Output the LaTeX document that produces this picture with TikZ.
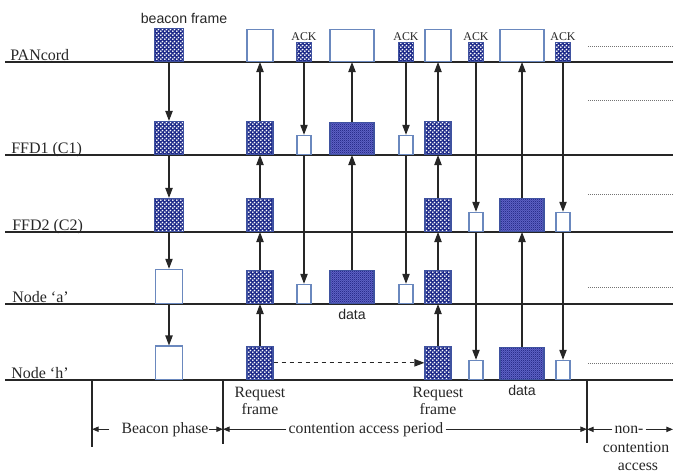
\documentclass[tikz,border=0pt]{standalone}
\usepackage{fontspec}
\setmainfont{Liberation Serif}
\newfontfamily\lblSans{Liberation Sans}
\usetikzlibrary{arrows.meta,patterns,positioning}
\definecolor{hatchBlue}{HTML}{1F2B8A}
\definecolor{edgeBlue}{HTML}{3F52A0}
\definecolor{paleEdge}{HTML}{6A88BE}
\definecolor{denseBlue}{HTML}{6064C8}
\definecolor{denseDark}{HTML}{2A2E8C}
\definecolor{lineGray}{HTML}{262626}
\pgfdeclarepatternformonly{frameDots}{\pgfqpoint{0pt}{0pt}}{\pgfqpoint{3pt}{3pt}}{\pgfqpoint{3pt}{3pt}}{%
  \pgfpathcircle{\pgfqpoint{0.75pt}{0.75pt}}{0.85pt}%
  \pgfpathcircle{\pgfqpoint{2.25pt}{2.25pt}}{0.85pt}%
  \pgfusepath{fill}}
\pgfdeclarepatternformonly{fineChecker}{\pgfqpoint{0pt}{0pt}}{\pgfqpoint{1.6pt}{1.6pt}}{\pgfqpoint{1.6pt}{1.6pt}}{%
  \pgfpathrectangle{\pgfqpoint{0pt}{0pt}}{\pgfqpoint{0.8pt}{0.8pt}}%
  \pgfpathrectangle{\pgfqpoint{0.8pt}{0.8pt}}{\pgfqpoint{0.8pt}{0.8pt}}%
  \pgfusepath{fill}}
\tikzset{
  hatchBox/.style={draw=edgeBlue, line width=0.8pt, preaction={fill=hatchBlue}, pattern=frameDots, pattern color=white, inner sep=0pt, anchor=south},
  plainBox/.style={draw=paleEdge, line width=0.9pt, fill=white, inner sep=0pt, anchor=south},
  dataBox/.style={draw=edgeBlue, line width=0.8pt, preaction={fill=denseBlue}, pattern=fineChecker, pattern color=denseDark, inner sep=0pt, anchor=south},
  bcSize/.style={minimum width=22pt, minimum height=24.75pt},
  rqSize/.style={minimum width=19.5pt, minimum height=25pt},
  akSize/.style={minimum width=11pt, minimum height=14.25pt},
  dtSize/.style={minimum width=33pt, minimum height=24pt},
  rowLine/.style={draw=lineGray, line width=1.1pt},
  rowLbl/.style={anchor=base west, inner sep=0pt, font=\fontsize{12pt}{13pt}\selectfont, text=lineGray},
  sig/.style={draw=lineGray, line width=0.8pt, -{Triangle[length=7.5pt,width=5.5pt]}},
  ackLbl/.style={inner sep=0pt, font=\fontsize{8.9pt}{10pt}\selectfont, text=lineGray},
  sansLbl/.style={inner sep=0pt, font=\lblSans\fontsize{10.6pt}{12pt}\selectfont, text=lineGray},
  subLbl/.style={inner sep=0pt, align=center, font=\fontsize{11.8pt}{12.8pt}\selectfont, text=lineGray},
  phaseLbl/.style={anchor=base, inner xsep=1.5pt, inner ysep=0pt, font=\fontsize{11.8pt}{13pt}\selectfont, text=lineGray},
  span/.style={draw=lineGray, line width=0.75pt, -{Triangle[length=5pt,width=4pt]}},
  tickLine/.style={draw=lineGray, line width=0.9pt},
  restDots/.style={draw=black!55, line width=0.7pt, dash pattern=on 0.6pt off 0.9pt}
}
\begin{document}
\begin{tikzpicture}[x=0.75pt,y=-0.75pt]
\useasboundingbox (0,0) rectangle (673,472);
\foreach \y in {62,155,232,304,380}
  \draw[rowLine] (5,\y) -- (673,\y);
\foreach \y in {46,100,194,287,363}
  \draw[restDots] (588,\y) -- (673,\y);
\node[rowLbl] (lblPan) at (10,60) {PANcord};
\node[rowLbl] (lblFfa) at (11,153) {FFD1 (C1)};
\node[rowLbl] (lblFfb) at (12,230) {FFD2 (C2)};
\node[rowLbl] (lblNda) at (12,302) {Node ‘a’};
\node[rowLbl] (lblNdh) at (11,378) {Node ‘h’};
\node[sansLbl] (bfLbl) at (184,18) {beacon frame};
\node[hatchBox,bcSize] (bcn0) at (169,62) {};
\node[hatchBox,bcSize] (bcn1) at (169,155) {};
\node[hatchBox,bcSize] (bcn2) at (169,232) {};
\node[plainBox,bcSize,minimum width=20pt,minimum height=25.5pt] (bcn3) at (169,304) {};
\node[plainBox,bcSize,minimum width=20pt,minimum height=25pt] (bcn4) at (169,380) {};
\draw[sig] (bcn0.south) -- (bcn1.north);
\draw[sig] (bcn1.south) -- (bcn2.north);
\draw[sig] (bcn2.south) -- (bcn3.north);
\draw[sig] (bcn3.south) -- (bcn4.north);
\node[plainBox,rqSize,minimum height=24pt] (reqA0) at (260,62) {};
\node[hatchBox,rqSize] (reqA1) at (260,155) {};
\node[hatchBox,rqSize] (reqA2) at (260,232) {};
\node[hatchBox,rqSize] (reqA3) at (260,304) {};
\node[hatchBox,rqSize] (reqA4) at (260,380) {};
\draw[sig] (reqA4.north) -- (reqA3.south);
\draw[sig] (reqA3.north) -- (reqA2.south);
\draw[sig] (reqA2.north) -- (reqA1.south);
\draw[sig] (reqA1.north) -- (reqA0.south);
\node[subLbl, below=5pt of reqA4] (reqLblA) {Request\\frame};
\node[hatchBox,akSize] (ackA0) at (304,62) {};
\node[ackLbl, above=0.8pt of ackA0] (ackLblA) {ACK};
\node[plainBox,akSize,minimum width=10.5pt] (ackA1) at (304,155) {};
\node[plainBox,akSize,minimum width=10.5pt] (ackA3) at (304,304) {};
\draw[sig] (ackA0.south) -- (ackA1.north);
\draw[sig] (ackA1.south) -- (ackA3.north);
\node[plainBox,dtSize] (datA0) at (352,62) {};
\node[dataBox,dtSize] (datA1) at (352,155) {};
\node[dataBox,dtSize,minimum height=24.75pt] (datA3) at (352,304) {};
\draw[sig] (datA3.north) -- (datA1.south);
\draw[sig] (datA1.north) -- (datA0.south);
\node[sansLbl, below=4pt of datA3] (datLblA) {data};
\node[hatchBox,akSize] (ackB0) at (406,62) {};
\node[ackLbl, above=0.8pt of ackB0] (ackLblB) {ACK};
\node[plainBox,akSize,minimum width=10.5pt] (ackB1) at (406,155) {};
\node[plainBox,akSize,minimum width=10.5pt] (ackB3) at (406,304) {};
\draw[sig] (ackB0.south) -- (ackB1.north);
\draw[sig] (ackB1.south) -- (ackB3.north);
\node[plainBox,rqSize,minimum height=24pt] (reqB0) at (438,62) {};
\node[hatchBox,rqSize] (reqB1) at (438,155) {};
\node[hatchBox,rqSize] (reqB2) at (438,232) {};
\node[hatchBox,rqSize] (reqB3) at (438,304) {};
\node[hatchBox,rqSize] (reqB4) at (438,380) {};
\draw[sig] (reqB4.north) -- (reqB3.south);
\draw[sig] (reqB3.north) -- (reqB2.south);
\draw[sig] (reqB2.north) -- (reqB1.south);
\draw[sig] (reqB1.north) -- (reqB0.south);
\node[subLbl, below=5pt of reqB4] (reqLblB) {Request\\frame};
\draw[sig, dashed] (reqA4.east) -- (reqB4.west);
\node[hatchBox,akSize] (ackC0) at (476,62) {};
\node[ackLbl, above=0.8pt of ackC0] (ackLblC) {ACK};
\node[plainBox,akSize,minimum width=10.5pt] (ackC2) at (476,232) {};
\node[plainBox,akSize,minimum width=10.5pt] (ackC4) at (476,380) {};
\draw[sig] (ackC0.south) -- (ackC2.north);
\draw[sig] (ackC2.south) -- (ackC4.north);
\node[plainBox,dtSize] (datB0) at (522,62) {};
\node[dataBox,dtSize,minimum height=24.75pt] (datB2) at (522,232) {};
\node[dataBox,dtSize] (datB4) at (522,380) {};
\draw[sig] (datB4.north) -- (datB2.south);
\draw[sig] (datB2.north) -- (datB0.south);
\node[sansLbl, below=4pt of datB4] (datLblB) {data};
\node[hatchBox,akSize] (ackD0) at (563,62) {};
\node[ackLbl, above=0.8pt of ackD0] (ackLblD) {ACK};
\node[plainBox,akSize,minimum width=10.5pt] (ackD2) at (563,232) {};
\node[plainBox,akSize,minimum width=10.5pt] (ackD4) at (563,380) {};
\draw[sig] (ackD0.south) -- (ackD2.north);
\draw[sig] (ackD2.south) -- (ackD4.north);
\coordinate (tkA) at (92,380);
\coordinate (tkB) at (223,380);
\coordinate (tkC) at (587,380);
\coordinate (tkEnd) at (673,430);
\draw[tickLine] (tkA) -- ++(0,67);
\draw[tickLine] (tkB) -- ++(0,64);
\draw[tickLine] (tkC) -- ++(0,63);
\node[phaseLbl, inner xsep=0pt] (bcnPhase) at (159,433) {\hspace{9pt}Beacon phase};
\node[phaseLbl] (capPhase) at (366,433) {contention access period};
\node[phaseLbl] (ncpPhase) at (629,433) {non-};
\node[phaseLbl] (ncpLine2) at (636,452) {contention};
\node[phaseLbl] (ncpLine3) at (638,470) {access};
\draw[span] (bcnPhase.west) -- (bcnPhase.west -| tkA);
\draw[span] (bcnPhase.east) -- (bcnPhase.east -| tkB);
\draw[span] (capPhase.west) -- (capPhase.west -| tkB);
\draw[span] (capPhase.east) -- (capPhase.east -| tkC);
\draw[span] (ncpPhase.west) -- (ncpPhase.west -| tkC);
\draw[span] (ncpPhase.east) -- (ncpPhase.east -| tkEnd);
\end{tikzpicture}
\end{document}
